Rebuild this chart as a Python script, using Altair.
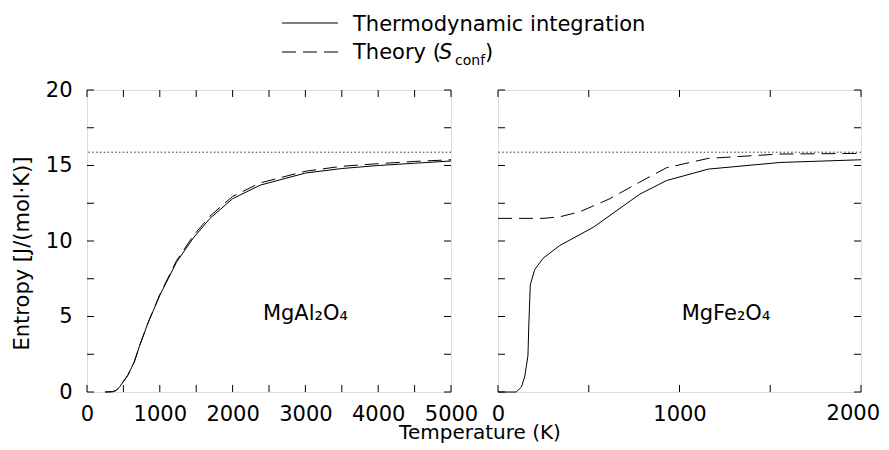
import altair as alt
import pandas as pd

# ---------------- data ----------------
# MgAl2O4 (left panel)
T_left_ti = [250, 350, 400, 450, 500, 560, 650, 725, 840, 1000, 1230, 1460, 1690, 2000, 2380, 3000, 3500, 4000, 4500, 5000]
S_left_ti = [0.0, 0.02, 0.1, 0.35, 0.7, 1.1, 2.0, 3.1, 4.6, 6.4, 8.6, 10.2, 11.5, 12.8, 13.7, 14.5, 14.8, 15.0, 15.15, 15.3]
T_left_th = [250, 350, 400, 450, 500, 560, 650, 725, 840, 1000, 1230, 1460, 1690, 2000, 2380, 3000, 3500, 4000, 4500, 5000]
S_left_th = [0.0, 0.02, 0.1, 0.35, 0.7, 1.1, 2.0, 3.1, 4.6, 6.45, 8.7, 10.35, 11.65, 12.95, 13.85, 14.62, 14.95, 15.12, 15.27, 15.38]

# MgFe2O4 (right panel)
T_right_ti = [0, 100, 129, 147, 165, 170, 178, 202, 248, 340, 524, 781, 928, 1158, 1553, 2000]
S_right_ti = [0.0, 0.0, 0.33, 1.0, 2.4, 4.5, 7.1, 8.1, 8.85, 9.7, 10.9, 13.1, 14.0, 14.76, 15.2, 15.38]
T_right_th = [0, 248, 340, 450, 616, 781, 928, 1158, 1553, 2000]
S_right_th = [11.5, 11.5, 11.6, 11.93, 12.8, 13.9, 14.85, 15.47, 15.76, 15.8]

S_max = [15.88]

x_ticks_left = [0, 500, 1000, 1500, 2000, 2500, 3000, 3500, 4000, 4500, 5000]
x_labels_left = [0, 1000, 2000, 3000, 4000, 5000]
x_ticks_right = [0, 500, 1000, 1500, 2000]
x_labels_right = [0, 1000]
x_label_right_end = [2000]
y_ticks = [0, 2.5, 5, 7.5, 10, 12.5, 15, 17.5, 20]
y_labels = [0, 5, 10, 15, 20]

formula_left = ["MgAl₂O₄"]
formula_left_T = [3000]
formula_right = ["MgFe₂O₄"]
formula_right_T = [1256]
formula_S = [4.8]

legend_ti = "Thermodynamic integration"
x_title = "Temperature (K)"
y_title = "Entropy [J/(mol·K)]"

# ---------------- style ----------------
FONT = "DejaVu Sans"
FS = 21
W1, W2, H = 364, 363, 302
TL = 7
PAD_L, PAD_T = 79, 82
SVG_W, SVG_H = 873, 434
LABEL_PAD = 11


def panel(T_ti, S_ti, T_th, S_th, xmax, xticks, xlabels, ftext, fT, width, left):
    xs = alt.Scale(domain=[0, xmax], nice=False, zero=False)
    ys = alt.Scale(domain=[0, 20], nice=False, zero=False)

    xaxis = alt.Axis(values=xlabels, ticks=False, tickSize=0, domain=False, grid=False,
                     labelFont=FONT, labelFontSize=FS, labelColor="black", labelPadding=LABEL_PAD,
                     labelFlush=False, format="d", title=None)
    if left:
        yaxis = alt.Axis(values=y_labels, ticks=False, tickSize=0, domain=False, grid=False,
                         labelFont=FONT, labelFontSize=FS, labelColor="black", labelPadding=15,
                         labelFlush=False, format="d", title=y_title,
                         titleFont=FONT, titleFontSize=FS, titleFontWeight="normal",
                         titleColor="black", titleAngle=270, titleX=-59, titleY=163,
                         titleAlign="center", titleBaseline="alphabetic")
    else:
        yaxis = None

    def X(f):
        return alt.X(f, scale=xs, axis=xaxis, title=None)

    def Y(f):
        return alt.Y(f, scale=ys, axis=yaxis, title=y_title if left else None)

    df_ti = pd.DataFrame({"T": T_ti, "S": S_ti})
    df_th = pd.DataFrame({"T": T_th, "S": S_th})

    ti = alt.Chart(df_ti).mark_line(color="black", strokeWidth=1).encode(
        x=X("T:Q"), y=Y("S:Q"))
    th = alt.Chart(df_th).mark_line(color="black", strokeWidth=1, strokeDash=[14, 7]).encode(
        x=X("T:Q"), y=Y("S:Q"))
    smax = alt.Chart(pd.DataFrame({"s": S_max})).mark_rule(
        color="#333333", strokeWidth=1, strokeDash=[1.5, 2.3]).encode(y=Y("s:Q"))

    dfx = pd.DataFrame({"x": xticks})
    dfy = pd.DataFrame({"y": y_ticks})
    xt_b = alt.Chart(dfx).mark_rule(color="black", strokeWidth=1).encode(
        x=X("x:Q"), y=alt.value(H), y2=alt.value(H - TL))
    xt_t = alt.Chart(dfx).mark_rule(color="black", strokeWidth=1).encode(
        x=X("x:Q"), y=alt.value(0), y2=alt.value(TL))
    yt_l = alt.Chart(dfy).mark_rule(color="black", strokeWidth=1).encode(
        y=Y("y:Q"), x=alt.value(0), x2=alt.value(TL))
    yt_r = alt.Chart(dfy).mark_rule(color="black", strokeWidth=1).encode(
        y=Y("y:Q"), x=alt.value(width), x2=alt.value(width - TL))

    ftxt = alt.Chart(pd.DataFrame({"T": fT, "S": formula_S, "t": ftext})).mark_text(
        font=FONT, fontSize=FS, color="black", align="center", baseline="alphabetic").encode(
        x=X("T:Q"), y=Y("S:Q"), text="t:N")

    layers = [ti, th, smax, xt_b, xt_t, yt_l, yt_r, ftxt]

    if left:
        # legend (drawn above the left panel) and shared x title
        leg_solid = alt.Chart().mark_rule(color="black", strokeWidth=1).encode(
            x=alt.value(195), x2=alt.value(251), y=alt.value(-67))
        leg_dash = alt.Chart().mark_rule(color="black", strokeWidth=1, strokeDash=[14, 7]).encode(
            x=alt.value(195), x2=alt.value(251), y=alt.value(-38))
        t1 = alt.Chart().mark_text(text=legend_ti, font=FONT, fontSize=FS, color="black",
                                   align="left", baseline="alphabetic").encode(
            x=alt.value(266), y=alt.value(-59.5))
        t2 = alt.Chart().mark_text(text="Theory (", font=FONT, fontSize=FS, color="black",
                                   align="left", baseline="alphabetic").encode(
            x=alt.value(266), y=alt.value(-31))
        t3 = alt.Chart().mark_text(text="S", font=FONT, fontSize=FS, fontStyle="italic",
                                   color="black", align="left", baseline="alphabetic").encode(
            x=alt.value(352), y=alt.value(-31))
        t4 = alt.Chart().mark_text(text="conf", font=FONT, fontSize=14, color="black",
                                   align="left", baseline="alphabetic").encode(
            x=alt.value(368), y=alt.value(-25))
        t5 = alt.Chart().mark_text(text=")", font=FONT, fontSize=FS, color="black",
                                   align="left", baseline="alphabetic").encode(
            x=alt.value(398), y=alt.value(-31))
        xt = alt.Chart().mark_text(text=x_title, font=FONT, fontSize=20, color="black",
                                   align="center", baseline="alphabetic").encode(
            x=alt.value(393), y=alt.value(349))
        layers += [leg_solid, leg_dash, t1, t2, t3, t4, t5, xt]
    else:
        # last tick label of the right panel, pulled in so it stays on the page
        end_lab = alt.Chart(pd.DataFrame({"x": x_label_right_end})).mark_text(
            font=FONT, fontSize=FS, color="black", align="right", baseline="alphabetic",
            dx=19).encode(
            x=X("x:Q"), y=alt.value(H + LABEL_PAD + 0.79 * FS), text=alt.Text("x:Q", format="d"))
        layers += [end_lab]

    return alt.layer(*layers).properties(width=width, height=H)


left = panel(T_left_ti, S_left_ti, T_left_th, S_left_th, 5000, x_ticks_left, x_labels_left,
             formula_left, formula_left_T, W1, True)
right = panel(T_right_ti, S_right_ti, T_right_th, S_right_th, 2000, x_ticks_right, x_labels_right,
              formula_right, formula_right_T, W2, False)

chart = alt.hconcat(left, right, spacing=47, bounds="flush").properties(
    autosize=alt.AutoSizeParams(type="none"),
    padding={"left": PAD_L, "top": PAD_T, "right": SVG_W - PAD_L, "bottom": SVG_H - PAD_T},
).configure_view(stroke="black", strokeWidth=1).configure(background="white")

chart.save("out.html", embed_options={"renderer": "svg", "actions": False})
